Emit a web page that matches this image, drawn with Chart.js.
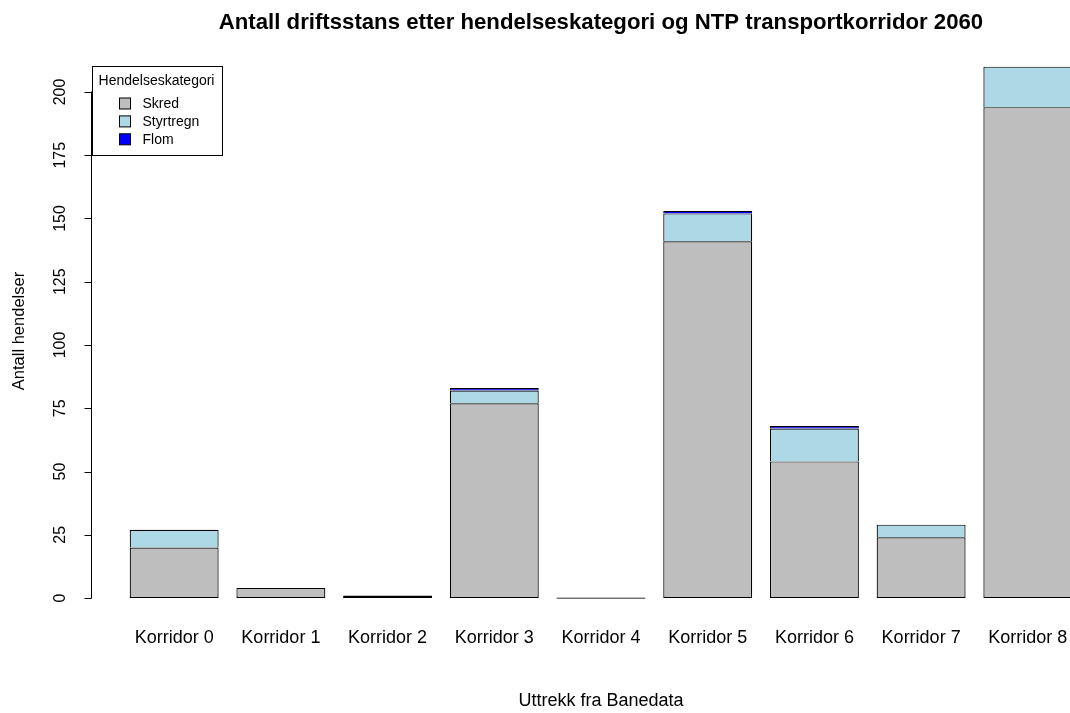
<!DOCTYPE html>
<html>
<head>
<meta charset="utf-8">
<script src="https://cdn.jsdelivr.net/npm/chart.js@4.4.1/dist/chart.umd.min.js"></script>
<style>
    html, body { margin: 0; padding: 0; background: #fff; overflow: hidden; }
    #wrap { width: 1110px; height: 713px; }
</style>
</head>
<body>
<div id="wrap"><canvas id="chart" width="1110" height="713"></canvas></div>
<script>
// Data
const categories = ['Korridor 0', 'Korridor 1', 'Korridor 2', 'Korridor 3', 'Korridor 4',
                    'Korridor 5', 'Korridor 6', 'Korridor 7', 'Korridor 8'];
const skred     = [20, 4, 1, 77, 0, 141, 54, 24, 194];
const styrtregn = [7, 0, 0, 5, 0, 11, 13, 5, 16];
const flom      = [0, 0, 0, 1, 0, 1, 1, 0, 0];
const yTicks    = [0, 25, 50, 75, 100, 125, 150, 175, 200];

const chartTitle  = 'Antall driftsstans etter hendelseskategori og NTP transportkorridor 2060';
const xTitle      = 'Uttrekk fra Banedata';
const yTitle      = 'Antall hendelser';
const legendTitle = 'Hendelseskategori';

const FONT = '"Liberation Sans", Arial, sans-serif';
Chart.defaults.font.family = FONT;

// barplot layout: bar width 1, space 0.2, so centres at 0.7, 1.9, ...
const xPos = categories.map((c, i) => 0.7 + 1.2 * i);
const pts = values => values.map((v, i) => ({ x: xPos[i], y: v }));

const sideBorder = { top: 1.2, left: 1.2, right: 1.2, bottom: 0 };

// titles, y axis line + ticks, rotated y labels and the legend box
const decor = {
    id: 'decor',
    afterDraw(chart) {
        const { ctx, chartArea: a, scales: { y } } = chart;
        const mid = (a.left + a.right) / 2;
        const ax = Math.round(a.left) - 0.5;
        ctx.save();
        ctx.fillStyle = '#000';
        ctx.strokeStyle = '#000';
        ctx.lineWidth = 1;
        ctx.textAlign = 'center';
        ctx.textBaseline = 'middle';

        ctx.font = 'bold 22.2px ' + FONT;
        ctx.fillText(chartTitle, mid, 23);

        ctx.font = '18px ' + FONT;
        ctx.fillText(xTitle, mid, 701);

        const yTop = Math.round(y.getPixelForValue(yTicks[yTicks.length - 1]));
        const yBot = Math.round(y.getPixelForValue(yTicks[0]));
        ctx.beginPath();
        ctx.moveTo(ax, yBot + 0.5);
        ctx.lineTo(ax, yTop - 0.5);
        yTicks.forEach(v => {
            const py = Math.round(y.getPixelForValue(v)) + 0.5;
            ctx.moveTo(ax, py);
            ctx.lineTo(ax - 7, py);
        });
        ctx.stroke();

        ctx.font = '16px ' + FONT;
        yTicks.forEach(v => {
            ctx.save();
            ctx.translate(a.left - 31, y.getPixelForValue(v));
            ctx.rotate(-Math.PI / 2);
            ctx.fillText(String(v), 0, 0);
            ctx.restore();
        });

        ctx.save();
        ctx.translate(19, 331);
        ctx.rotate(-Math.PI / 2);
        ctx.font = '16.5px ' + FONT;
        ctx.fillText(yTitle, 0, 0);
        ctx.restore();

        // legend
        const lx = ax + 1, ly = 66.5, lw = 130, lh = 89;
        ctx.fillStyle = '#fff';
        ctx.fillRect(lx, ly, lw, lh);
        ctx.strokeRect(lx, ly, lw, lh);
        ctx.fillStyle = '#000';
        ctx.font = '14px ' + FONT;
        ctx.fillText(legendTitle, lx + lw / 2 - 1, 81);
        chart.data.datasets.forEach((ds, i) => {
            const cy = 103.5 + i * 17.9;
            ctx.fillStyle = ds.backgroundColor;
            ctx.fillRect(119.5, cy - 5.5, 11, 11);
            ctx.strokeRect(119.5, cy - 5.5, 11, 11);
            ctx.fillStyle = '#000';
            ctx.textAlign = 'left';
            ctx.fillText(ds.label, 142.5, cy + 0.5);
            ctx.textAlign = 'center';
        });
        ctx.restore();
    }
};

new Chart(document.getElementById('chart'), {
    type: 'bar',
    data: {
        datasets: [
            { label: 'Skred', data: pts(skred), backgroundColor: '#BEBEBE',
              borderColor: '#000', borderWidth: 1.2, borderSkipped: false, minBarLength: 1.2 },
            { label: 'Styrtregn', data: pts(styrtregn), backgroundColor: '#ADD8E6',
              borderColor: '#000', borderWidth: sideBorder, borderSkipped: false },
            { label: 'Flom', data: pts(flom), backgroundColor: '#0000FF',
              borderColor: '#000', borderWidth: sideBorder, borderSkipped: false }
        ]
    },
    options: {
        responsive: false,
        animation: false,
        devicePixelRatio: 1,
        layout: { padding: { top: 45.4, left: 0, right: 0, bottom: 0 } },
        datasets: { bar: { barPercentage: 1 / 1.2, categoryPercentage: 1 } },
        plugins: {
            legend: { display: false },
            tooltip: { enabled: false },
            title: { display: false }
        },
        scales: {
            x: {
                type: 'linear',
                stacked: true,
                offset: false,
                min: -0.224,
                max: 11.224,
                grid: { display: false, drawTicks: false },
                border: { display: false },
                afterBuildTicks: s => { s.ticks = xPos.map(v => ({ value: v })); },
                afterFit: s => { s.height = 93.7; },
                ticks: {
                    autoSkip: false,
                    maxRotation: 0,
                    minRotation: 0,
                    padding: 8,
                    color: '#000',
                    font: { size: 18 },
                    callback: (v, i) => categories[i]
                }
            },
            y: {
                type: 'linear',
                stacked: true,
                min: -8.4,
                max: 218.4,
                afterBuildTicks: s => { s.ticks = yTicks.map(v => ({ value: v })); },
                afterFit: s => { s.width = 92; },
                grid: { display: false },
                border: { display: false },
                ticks: { display: false }
            }
        }
    },
    plugins: [decor]
});
</script>
</body>
</html>
